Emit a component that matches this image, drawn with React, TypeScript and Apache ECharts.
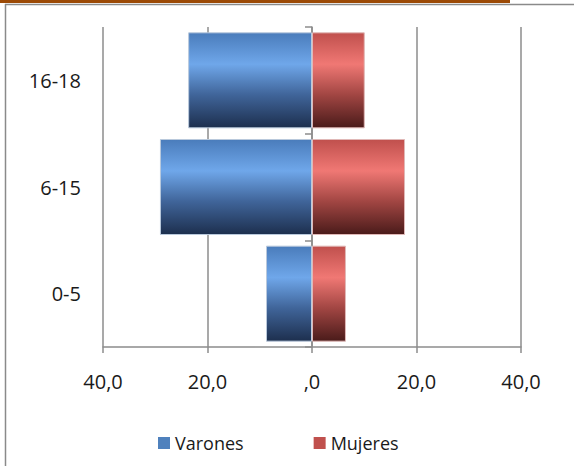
import React, { useEffect, useRef } from "react";
import * as echarts from "echarts";

const categories = ["0-5", "6-15", "16-18"];
const varones = [8.8, 29.1, 23.7];
const mujeres = [6.5, 17.8, 10.1];
const seriesNames = ["Varones", "Mujeres"];

const FONT = "'Open Sans', sans-serif";

function fmt(v: number): string {
  const a = Math.abs(v);
  if (a === 0) return ",0";
  return a.toFixed(1).replace(".", ",");
}

export default function App() {
  const ref = useRef<HTMLDivElement>(null);
  useEffect(() => {
    if (!ref.current) return;
    const chart = echarts.init(ref.current, undefined, { renderer: "svg" });
    const blueGrad = new echarts.graphic.LinearGradient(0, 0, 0, 1, [
      { offset: 0, color: "#4a7cbb" },
      { offset: 0.33, color: "#6fa7ea" },
      { offset: 0.65, color: "#40659a" },
      { offset: 1, color: "#1d2f4e" },
    ]);
    const redGrad = new echarts.graphic.LinearGradient(0, 0, 0, 1, [
      { offset: 0, color: "#c0504d" },
      { offset: 0.33, color: "#f07874" },
      { offset: 0.65, color: "#a24643" },
      { offset: 1, color: "#4a1b1a" },
    ]);
    chart.setOption({
      animation: false,
      backgroundColor: "#ffffff",
      textStyle: { fontFamily: FONT },
      graphic: [
        { type: "rect", shape: { x: 0, y: 0, width: 510, height: 3 }, style: { fill: "#9c4a06" } },
        { type: "line", shape: { x1: 5, y1: 4.5, x2: 574, y2: 4.5 }, style: { stroke: "#8a8a8a", lineWidth: 1.5 } },
        { type: "line", shape: { x1: 5.5, y1: 4, x2: 5.5, y2: 466 }, style: { stroke: "#8a8a8a", lineWidth: 1.5 } },
      ],
      legend: {
        data: [
          { name: seriesNames[0], itemStyle: { color: "#4f81bd", borderWidth: 0 } },
          { name: seriesNames[1], itemStyle: { color: "#c0504d", borderWidth: 0 } },
        ],
        left: 153,
        top: 429,
        itemWidth: 12,
        itemHeight: 12,
        itemGap: 70,
        icon: "rect",
        textStyle: { fontFamily: FONT, fontSize: 18, color: "#1a1a1a" },
      },
      grid: { left: 103, right: 53, top: 27, bottom: 119, containLabel: false },
      xAxis: {
        type: "value",
        min: -40,
        max: 40,
        interval: 20,
        axisLine: { show: true, lineStyle: { color: "#8c8c8c", width: 1.5 } },
        axisTick: { show: true, length: 6, lineStyle: { color: "#8c8c8c", width: 1.5 } },
        splitLine: { show: true, lineStyle: { color: "#8c8c8c", width: 1.5 } },
        axisLabel: { formatter: fmt, fontSize: 20, color: "#1a1a1a", margin: 24, fontFamily: FONT },
      },
      yAxis: [
        {
          type: "category",
          data: categories,
          axisLine: { show: false },
          axisTick: { show: false },
          axisLabel: { fontSize: 20, color: "#1a1a1a", margin: 22, fontFamily: FONT },
        },
        {
          type: "category",
          data: categories,
          position: "left",
          offset: -209,
          axisLine: { show: true, lineStyle: { color: "#8c8c8c", width: 1.5 } },
          axisTick: { show: true, length: 7, lineStyle: { color: "#8c8c8c", width: 1.5 } },
          axisLabel: { show: false },
        },
      ],
      series: [
        {
          name: "Varones",
          type: "bar",
          stack: "total",
          data: varones.map((v) => -v),
          barCategoryGap: "10%",
          itemStyle: { color: blueGrad, borderColor: "#b9c9dc", borderWidth: 1 },
          z: 1,
        },
        {
          name: "Mujeres",
          type: "bar",
          stack: "total",
          data: mujeres,
          barCategoryGap: "10%",
          itemStyle: { color: redGrad, borderColor: "#e0b8b7", borderWidth: 1 },
          z: 1,
        },
      ],
    } as any);
    return () => chart.dispose();
  }, []);
  return <div ref={ref} style={{ width: 574, height: 466, position: "absolute", left: 0, top: 0 }} />;
}
